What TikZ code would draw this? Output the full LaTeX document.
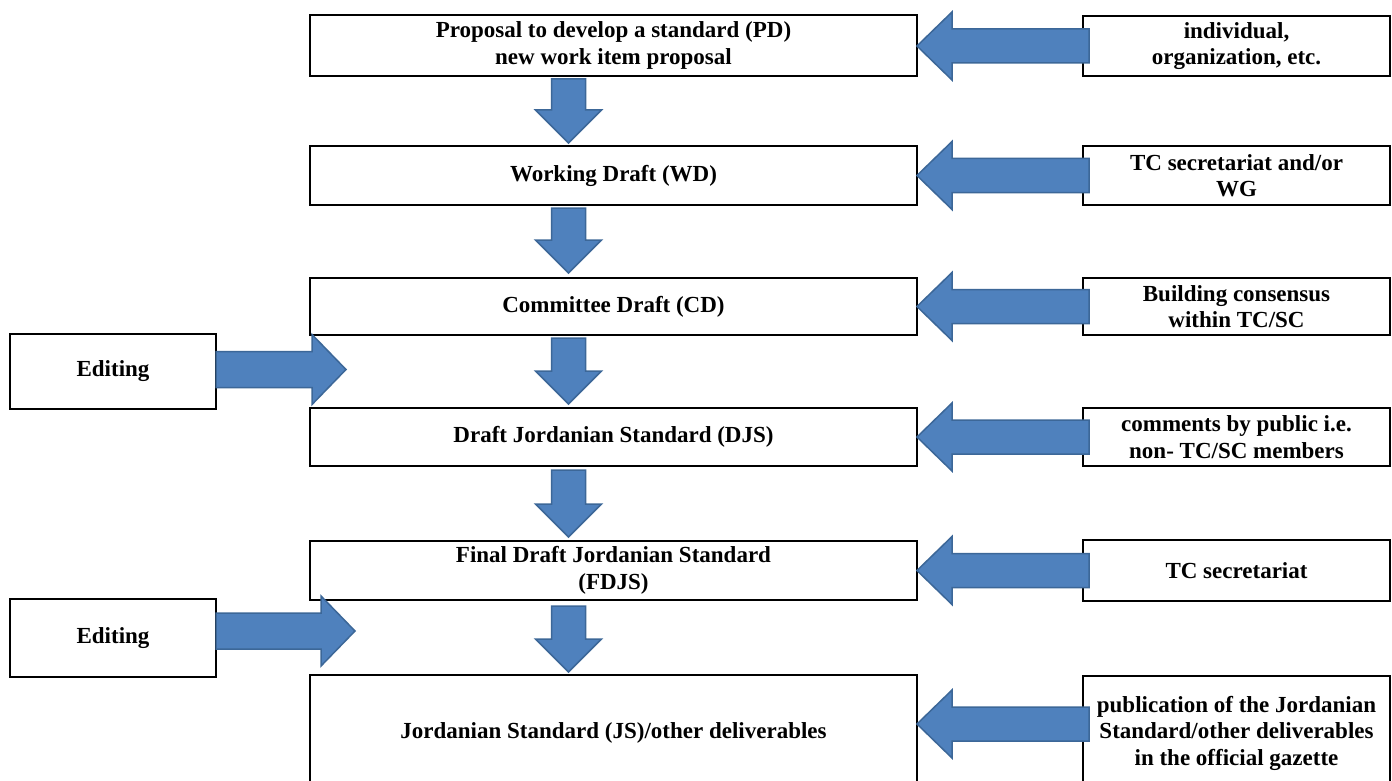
\documentclass[tikz,border=0pt]{standalone}
\usepackage{fontspec}
\setmainfont{Liberation Serif}
\usetikzlibrary{calc}
\definecolor{arrfill}{HTML}{4F81BD}
\definecolor{arrline}{HTML}{3C6798}
\newcommand\myarrL[2]{\filldraw[arr] let \p1=(#1), \p2=(#2) in (\x1,\y1+17pt) -- (\x2+35pt,\y1+17pt) -- (\x2+35pt,\y1+34pt) -- (\x2,\y1) -- (\x2+35pt,\y1-34pt) -- (\x2+35pt,\y1-17pt) -- (\x1,\y1-17pt) -- cycle;}
\newcommand\myarrR[2]{\filldraw[arr] let \p1=(#1), \p2=(#2) in (\x1,\y1+18pt) -- (\x2-34pt,\y1+18pt) -- (\x2-34pt,\y1+35pt) -- (\x2,\y1) -- (\x2-34pt,\y1-35pt) -- (\x2-34pt,\y1-18pt) -- (\x1,\y1-18pt) -- cycle;}
\newcommand\myarrD[2]{\filldraw[arr] let \p1=(#1), \p2=(#2) in (\x1-17pt,\y1) -- (\x1-17pt,\y2+33pt) -- (\x1-33pt,\y2+33pt) -- (\x1,\y2) -- (\x1+33pt,\y2+33pt) -- (\x1+17pt,\y2+33pt) -- (\x1+17pt,\y1) -- cycle;}
\begin{document}
\begin{tikzpicture}[x=1pt,y=-1pt,
  box/.style={draw, line width=2.2pt, fill=white, inner sep=0pt, outer sep=0pt,
    font=\fontsize{23}{26.5}\selectfont\bfseries, align=center, anchor=north west},
  arr/.style={fill=arrfill, draw=arrline, line width=1.5pt, line join=miter}]
\useasboundingbox (0,0) rectangle (1392,781);
\clip (0,0) rectangle (1392,781);
\fill[white] (0,0) rectangle (1392,781);
% main column
\node[box, minimum width=607pt, minimum height=61pt] (b1) at (310,15) {Proposal to develop a standard (PD)\\new work item proposal};
\node[box, minimum width=607pt, minimum height=59pt] (b2) at (310,146) {Working Draft (WD)};
\node[box, minimum width=607pt, minimum height=57pt] (b3) at (310,278) {Committee Draft (CD)};
\node[box, minimum width=607pt, minimum height=58pt] (b4) at (310,408) {Draft Jordanian Standard (DJS)};
\node[box, minimum width=607pt, minimum height=59pt] (b5) at (310,541) {Final Draft Jordanian Standard\\(FDJS)};
\node[box, minimum width=607pt, minimum height=115pt] (b6) at (310,675) {Jordanian Standard (JS)/other deliverables};
% right column
\node[box, minimum width=307pt, minimum height=60pt] (r1) at (1083,16) {individual,\\organization, etc.};
\node[box, minimum width=307pt, minimum height=59pt] (r2) at (1083,146) {TC secretariat and/or\\WG};
\node[box, minimum width=307pt, minimum height=57pt] (r3) at (1083,278) {Building consensus\\within TC/SC};
\node[box, minimum width=307pt, minimum height=58pt] (r4) at (1083,408) {comments by public i.e.\\non- TC/SC members};
\node[box, minimum width=307pt, minimum height=61pt] (r5) at (1083,540) {TC secretariat};
\node[box, minimum width=307pt, minimum height=114pt] (r6) at (1083,676) {publication of the Jordanian\\Standard/other deliverables\\in the official gazette};
% editing boxes
\node[box, minimum width=206pt, minimum height=75pt] (e1) at (10,334) {Editing};
\node[box, minimum width=206pt, minimum height=78pt] (e2) at (10,599) {Editing};
% coordinates
\coordinate (t1) at ($(e1.east -| b4.west)+(36,-2)$);
\coordinate (t2) at ($(e2.east -| b6.west)+(45,-7)$);
% down arrows
\myarrD{[xshift=-45pt,yshift=-3pt]b1.south}{[xshift=-45pt,yshift=3pt]b2.north}
\myarrD{[xshift=-45pt,yshift=-3pt]b2.south}{[xshift=-45pt,yshift=5pt]b3.north}
\myarrD{[xshift=-45pt,yshift=-3pt]b3.south}{[xshift=-45pt,yshift=4pt]b4.north}
\myarrD{[xshift=-45pt,yshift=-4pt]b4.south}{[xshift=-45pt,yshift=4pt]b5.north}
\myarrD{[xshift=-45pt,yshift=-6pt]b5.south}{[xshift=-45pt,yshift=3pt]b6.north}
% left arrows
\myarrL{[xshift=6pt]r1.west}{b1.east}
\myarrL{[xshift=6pt]r2.west}{b2.east}
\myarrL{[xshift=6pt]r3.west}{b3.east}
\myarrL{[xshift=6pt]r4.west}{b4.east}
\myarrL{[xshift=6pt]r5.west}{b5.east}
\myarrL{[xshift=6pt,yshift=9pt]r6.west}{b6.east}
% editing arrows
\myarrR{[yshift=2pt]e1.east}{t1}
\myarrR{[yshift=7pt]e2.east}{t2}
\end{tikzpicture}
\end{document}
